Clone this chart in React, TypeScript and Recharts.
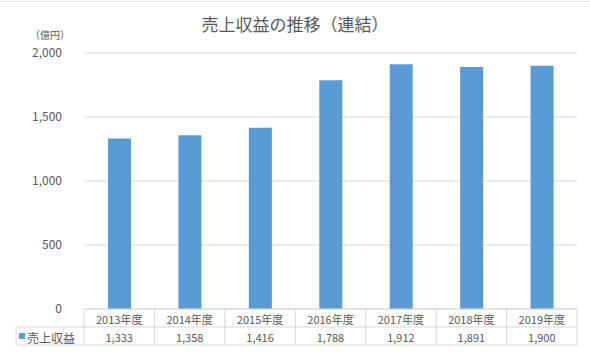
import { Bar, BarChart, CartesianGrid, XAxis, YAxis } from "recharts";

const categories = ["2013年度", "2014年度", "2015年度", "2016年度", "2017年度", "2018年度", "2019年度"];
const revenue = [1333, 1358, 1416, 1788, 1912, 1891, 1900];
const yTicks = [0, 500, 1000, 1500, 2000];

const data = categories.map((label, i) => ({ label, revenue: revenue[i] }));

const W = 590;
const H = 358;
const PLOT_LEFT = 84;
const PLOT_RIGHT = 577;
const PLOT_TOP = 53;
const PLOT_BOTTOM = 309;
const ROW_H = 18;
const TABLE_LEFT = 16;
const BAND = (PLOT_RIGHT - PLOT_LEFT) / categories.length;

const FONT = "'Noto Sans CJK JP', 'Noto Sans', sans-serif";
const TEXT = "#595959";
const LINE = "#d9d9d9";
const BLUE = "#5b9bd5";

const fmt = (v: number) => v.toLocaleString("en-US");

function TableTick(props: any) {
  const { x, index, payload } = props;
  const left = x - BAND / 2;
  const right = x + BAND / 2;
  const r1 = PLOT_BOTTOM;
  const r2 = PLOT_BOTTOM + ROW_H;
  const r3 = PLOT_BOTTOM + ROW_H * 2;
  return (
    <g>
      {index === 0 && (
        <g>
          <line x1={TABLE_LEFT} x2={PLOT_RIGHT} y1={r2} y2={r2} stroke={LINE} />
          <line x1={TABLE_LEFT} x2={PLOT_RIGHT} y1={r3} y2={r3} stroke={LINE} />
          <line x1={TABLE_LEFT} x2={TABLE_LEFT} y1={r2} y2={r3} stroke={LINE} />
          <rect x={TABLE_LEFT + 3} y={r2 + 6} width={6} height={6} fill={BLUE} />
          <text x={TABLE_LEFT + 11} y={r2 + ROW_H / 2 + 1} dominantBaseline="central" fontSize={12} fill={TEXT} fontFamily={FONT}>
            売上収益
          </text>
        </g>
      )}
      <line x1={left} x2={left} y1={r1} y2={r3} stroke={LINE} />
      {index === categories.length - 1 && <line x1={right} x2={right} y1={r1} y2={r3} stroke={LINE} />}
      <text x={x} y={r1 + ROW_H / 2 + 1} textAnchor="middle" dominantBaseline="central" fontSize={11} fill={TEXT} fontFamily={FONT}>
        {payload.value}
      </text>
      <text x={x} y={r2 + ROW_H / 2 + 1} textAnchor="middle" dominantBaseline="central" fontSize={11} fill={TEXT} fontFamily={FONT}>
        {fmt(revenue[index])}
      </text>
    </g>
  );
}

export default function App() {
  return (
    <div style={{ position: "absolute", left: 0, top: 0, width: W, height: H, background: "#fff", fontFamily: FONT }}>
      <div style={{ position: "absolute", left: 0, right: 0, top: 1, height: 1, background: "#e6e6e6" }} />
      <div style={{ position: "absolute", left: 0, width: W, top: 11, textAlign: "center", fontSize: 17, color: TEXT }}>
        売上収益の推移（連結）
      </div>
      <div style={{ position: "absolute", left: 30, top: 29, fontSize: 10, lineHeight: "12px", color: TEXT }}>（億円）</div>
      <BarChart
        width={W}
        height={H}
        data={data}
        margin={{ top: PLOT_TOP, right: W - PLOT_RIGHT, left: 0, bottom: H - PLOT_BOTTOM - 40 }}
        barSize={23}
      >
        <CartesianGrid vertical={false} stroke={LINE} />
        <XAxis
          dataKey="label"
          height={40}
          axisLine={{ stroke: LINE }}
          tickLine={false}
          tick={<TableTick />}
          interval={0}
        />
        <YAxis
          width={PLOT_LEFT}
          domain={[0, 2000]}
          ticks={yTicks}
          axisLine={false}
          tickLine={false}
          tickMargin={16}
          tickFormatter={fmt}
          tick={{ fontSize: 12, fill: TEXT, fontFamily: FONT }}
        />
        <Bar dataKey="revenue" fill={BLUE} isAnimationActive={false} />
      </BarChart>
    </div>
  );
}
